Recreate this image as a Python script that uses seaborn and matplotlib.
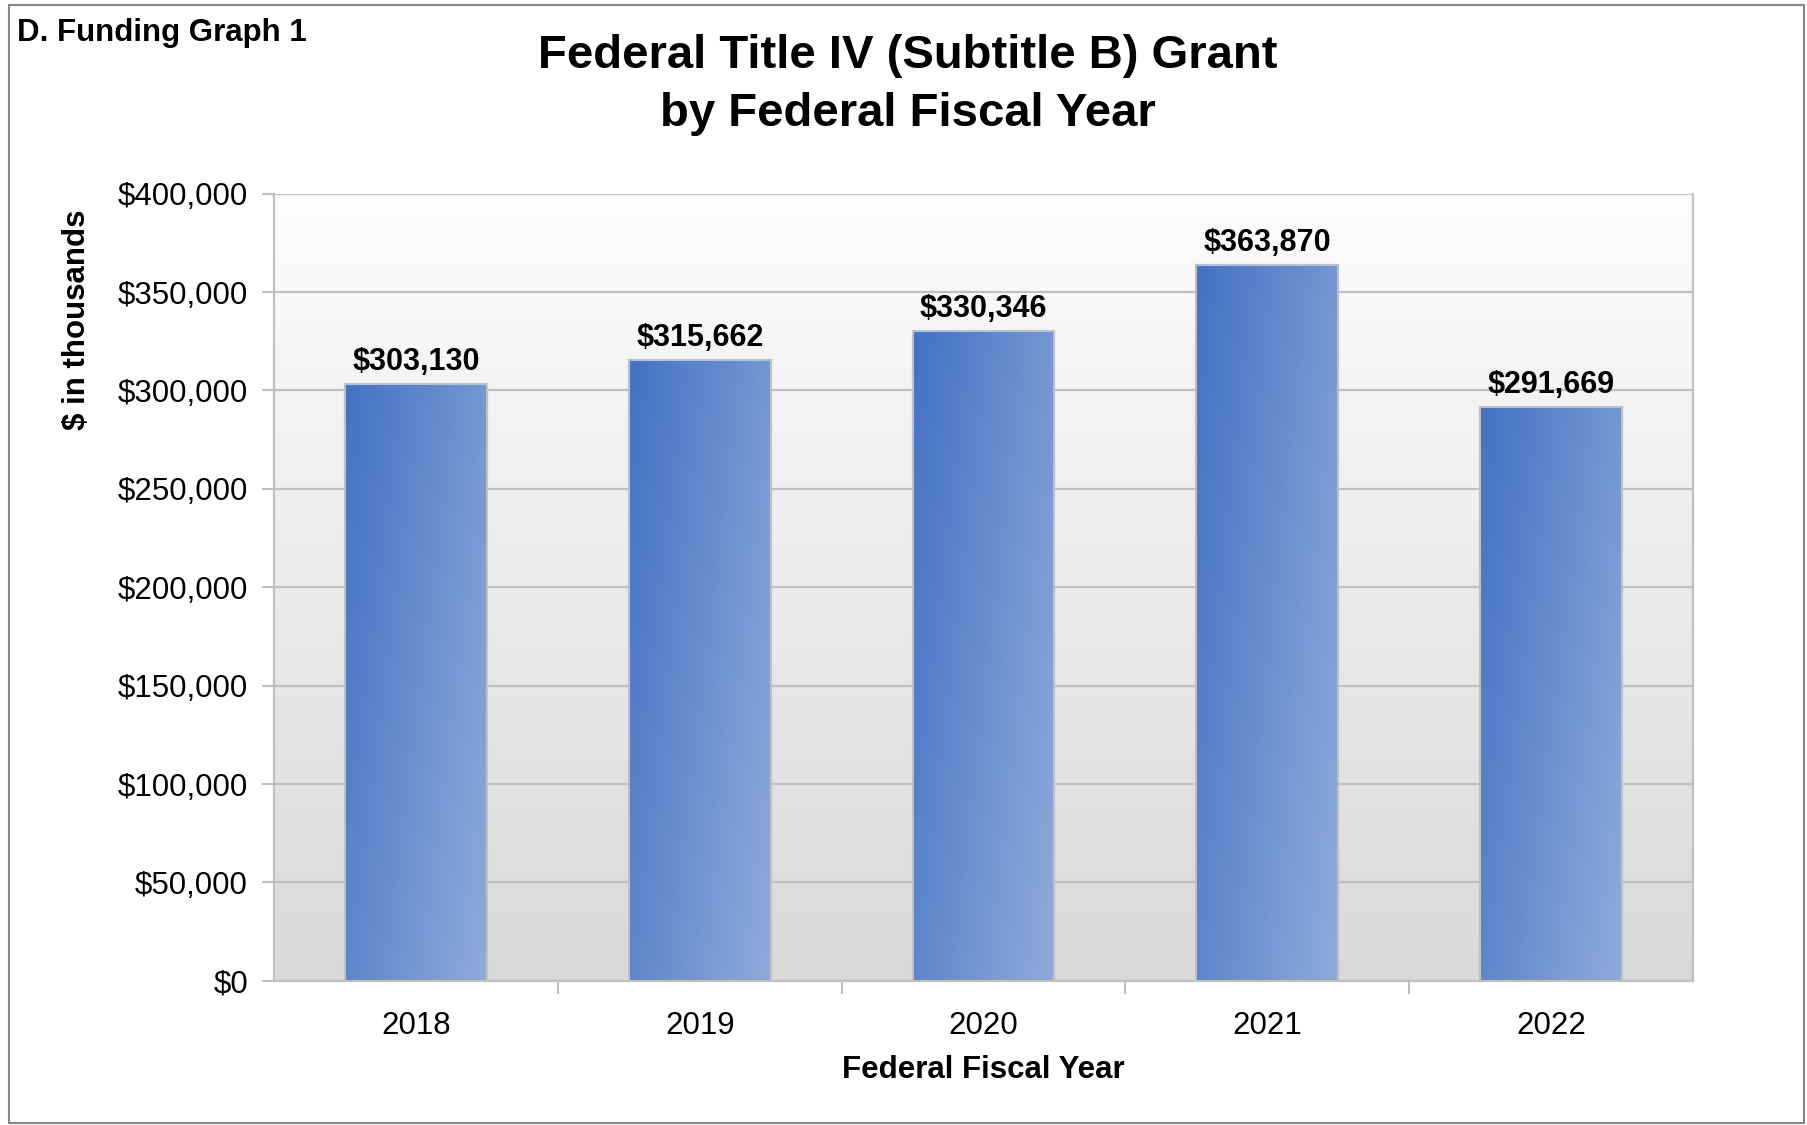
import numpy as np
import pandas as pd
import matplotlib
matplotlib.use('Agg')
import matplotlib.pyplot as plt
import seaborn as sns
from matplotlib.colors import LinearSegmentedColormap
from matplotlib.ticker import FuncFormatter, FixedLocator
from matplotlib.patches import Rectangle

years = ['2018', '2019', '2020', '2021', '2022']
grant = [303130, 315662, 330346, 363870, 291669]
y_ticks = [0, 50000, 100000, 150000, 200000, 250000, 300000, 350000, 400000]

df = pd.DataFrame({'year': years, 'grant': grant})

sns.set_style('white')
plt.rcParams['font.family'] = ['Liberation Sans', 'DejaVu Sans']
plt.rcParams['text.color'] = 'black'
plt.rcParams['axes.labelcolor'] = 'black'
plt.rcParams['xtick.color'] = 'black'
plt.rcParams['ytick.color'] = 'black'

fig = plt.figure(figsize=(18.08, 11.25), dpi=100)
ax = fig.add_axes([0.1518, 0.1281, 0.7844, 0.6998])

sns.barplot(data=df, x='year', y='grant', width=0.5, color='#4472c4',
            edgecolor='#c0c0c0', linewidth=1.5, ax=ax, zorder=3)

ax.set_xlim(-0.5, 4.5)
ax.set_ylim(0, 400000)

# plot area background: white at top to light gray at bottom
bg = np.linspace(0, 1, 256).reshape(-1, 1)
bg_cmap = LinearSegmentedColormap.from_list('bg', ['#fdfdfd', '#d9d9d9'])
ax.imshow(bg, cmap=bg_cmap, extent=[0, 1, 0, 1], transform=ax.transAxes,
          aspect='auto', zorder=0)

# bar gradient, dark top-left to light bottom-right
bar_cmap = LinearSegmentedColormap.from_list('bar', ['#4472c4', '#8eaadb'])
u, v = np.meshgrid(np.linspace(0, 1, 64), np.linspace(0, 1, 128))
shade = 0.65 * u + 0.35 * v
for p in ax.patches:
    x0, y0 = p.get_x(), p.get_y()
    w, h = p.get_width(), p.get_height()
    im = ax.imshow(shade, cmap=bar_cmap, vmin=0, vmax=1, origin='upper',
                   extent=[x0, x0 + w, y0, y0 + h], aspect='auto', zorder=3.5)
    im.set_clip_path(p)
    ax.add_patch(Rectangle((x0, y0), w, h, fill=False, edgecolor='#c0c0c0',
                           linewidth=1.5, zorder=4))

ax.set_xlim(-0.5, 4.5)
ax.set_ylim(0, 400000)

for i, val in enumerate(grant):
    ax.text(i, val + 3500, f'${val:,.0f}', ha='center', va='bottom',
            fontsize=22, fontweight='bold', color='black', zorder=5)

ax.yaxis.set_major_locator(FixedLocator(y_ticks))
ax.yaxis.set_major_formatter(FuncFormatter(lambda x, pos: f'${x:,.0f}'))
ax.yaxis.grid(True, color='#c0c0c0', linewidth=1.6, zorder=1)
ax.set_axisbelow(True)
ax.xaxis.set_minor_locator(FixedLocator([0.5, 1.5, 2.5, 3.5]))
ax.tick_params(axis='x', which='major', bottom=True, length=0, labelsize=22.5,
               pad=22)
ax.tick_params(axis='x', which='minor', bottom=True, length=9, width=1.5,
               color='#c0c0c0')
ax.tick_params(axis='y', which='major', left=True, length=9, width=1.5,
               color='#c0c0c0', labelcolor='black', labelsize=22.5, pad=10)

for s in ['left', 'bottom', 'right']:
    ax.spines[s].set_visible(True)
    ax.spines[s].set_color('#c0c0c0')
    ax.spines[s].set_linewidth(1.6)
ax.spines['top'].set_visible(False)

ax.set_xlabel('Federal Fiscal Year', fontsize=22.5, fontweight='bold', labelpad=10)
ax.set_ylabel('')
fig.text(0.0425, 0.716, '$ in thousands', rotation=90, ha='center', va='center',
         fontsize=22.5, fontweight='bold')

fig.text(0.502, 0.950, 'Federal Title IV (Subtitle B) Grant', ha='center',
         va='center', fontsize=34, fontweight='bold')
fig.text(0.502, 0.899, 'by Federal Fiscal Year', ha='center', va='center',
         fontsize=34, fontweight='bold')
fig.text(0.0095, 0.971, 'D. Funding Graph 1', ha='left', va='center',
         fontsize=22.5, fontweight='bold')

fig.patches.append(Rectangle((0.005, 0.002), 0.993, 0.994, transform=fig.transFigure,
                             fill=False, edgecolor='#888888', linewidth=1.5))

fig.savefig('out.png', dpi=100)
